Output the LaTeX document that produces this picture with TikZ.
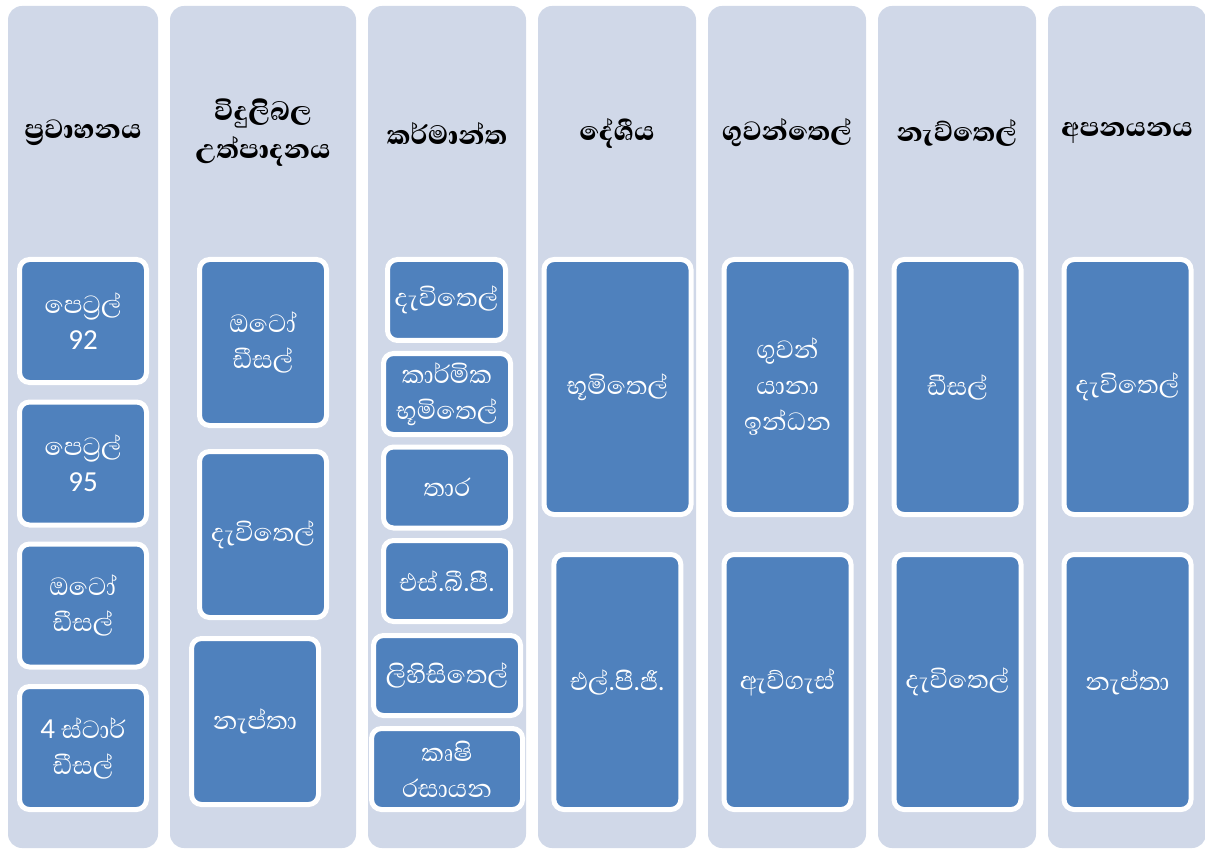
\documentclass[tikz,border=0pt]{standalone}
\usepackage{fontspec}
\setmainfont{Carlito}
\newfontfamily\sinfont[Script=Sinhala, BoldFont={Abhaya Libre ExtraBold}]{Abhaya Libre}
\definecolor{clane}{HTML}{D0D8E8}
\definecolor{cbox}{HTML}{4F81BD}
\newcommand{\latn}[1]{{\rmfamily\fontsize{29}{36}\selectfont #1}}
\tikzset{
  lane/.style={fill=clane, rounded corners=14pt, minimum width=#1pt, minimum height=842pt, inner sep=0pt},
  head/.style={font=\sinfont\bfseries\fontsize{34}{38}\selectfont, align=center, text=black},
  box/.style={draw=white, line width=5pt, fill=cbox, rounded corners=10pt, text=white, align=center,
    minimum width=127pt, minimum height=#1pt, inner sep=2pt, font=\sinfont\fontsize{32}{36}\selectfont},
  box/.default=123,
}

\begin{document}
\begin{tikzpicture}[x=1pt, y=-1pt]
  \useasboundingbox (0,0) rectangle (1205,850);
  \foreach \x/\w [count=\i] in {83/150, 263/186, 447/158, 617/158, 787/158, 957/158, 1127/158}
    \node[lane=\w] (lane\i) at (\x,427) {};
  \foreach \x/\t [count=\i] in {83/{ප්^^^^200dරවාහනය}, 263/{විදුලිබල\\උත්පාදනය}, 447/{කර්මාන්ත},
      617/{දේශීය}, 787/{ගුවන්තෙල්}, 957/{නැව්තෙල්}, 1127/{අපනයනය}}
    \node[head] (head\i) at (\x,133) {\t};
  % transport
  \node[box] (pet92) at (83,321) {පෙට්^^^^200dරල්\\\latn{92}};
  \node[box] (pet95) at (83,463.5) {පෙට්^^^^200dරල්\\\latn{95}};
  \node[box] (adsl) at (83,605.5) {ඔටෝ\\ඩීසල්};
  \node[box] (sdsl) at (83,748) {\latn{4} ස්ටාර්\\ඩීසල්};
  % power
  \node[box=166] (padsl) at (263,342.5) {ඔටෝ\\ඩීසල්};
  \node[box=166] (pfo) at (263,534.5) {දැවිතෙල්};
  \node[box=166] (pnap) at (255,721.5) {නැප්තා};
  % industry
  \node[box=81, minimum width=118pt] (ifo) at (446.5,300) {දැවිතෙල්};
  \node[box=81] (iker) at (447,394) {කාර්මික\\භූමිතෙල්};
  \node[box=81] (itar) at (447,487.5) {තාර};
  \node[box=81] (isbp) at (447,581) {එස්.බී.පී.};
  \node[box=80, minimum width=147pt] (ilub) at (447,675.5) {ලිහිසිතෙල්};
  \node[box=81, minimum width=151pt] (iagr) at (447,769) {කෘෂි\\රසායන};
  % domestic
  \node[box=255, minimum width=147pt] (dker) at (617.5,387) {භූමිතෙල්};
  \node[box=255] (dlpg) at (617.3,682) {එල්.පී.ජී.};
  % aviation
  \node[box=255] (ajet) at (787.5,387) {ගුවන්\\යානා\\ඉන්ධන};
  \node[box=255] (agas) at (787.5,682) {ඇව්ගැස්};
  % marine
  \node[box=255] (mdsl) at (957.5,387) {ඩීසල්};
  \node[box=255] (mfo) at (957.5,682) {දැවිතෙල්};
  % export
  \node[box=255] (efo) at (1127.5,387) {දැවිතෙල්};
  \node[box=255] (enap) at (1127.5,682) {නැප්තා};
\end{tikzpicture}
\end{document}
